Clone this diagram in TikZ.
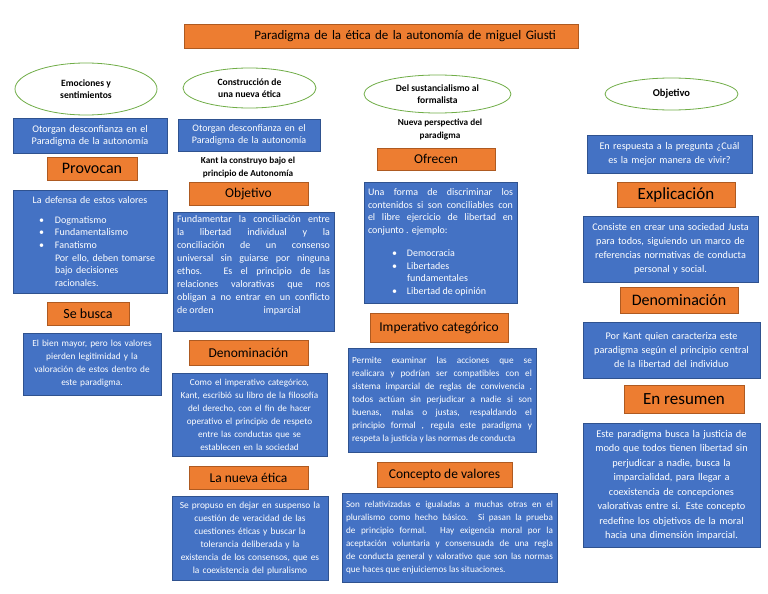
\documentclass[tikz,border=0pt]{standalone}
\usepackage{fontspec}
\setmainfont{Carlito}
\usetikzlibrary{positioning,shapes.geometric}
\definecolor{boxblue}{RGB}{68,114,196}
\definecolor{blueline}{RGB}{47,82,143}
\definecolor{headorange}{RGB}{237,125,49}
\definecolor{orangeline}{RGB}{174,90,33}
\definecolor{ovalgreen}{RGB}{112,173,71}
\tikzset{
  block/.style={draw=blueline, fill=boxblue, text=white, line width=0.8pt,
    font=\fontsize{9.5}{13}\selectfont, inner xsep=4pt, inner ysep=2pt, align=center},
  head/.style={draw=orangeline, fill=headorange, line width=0.8pt, inner sep=0pt,
    font=\fontsize{13.5}{16}\selectfont, align=center},
  bubble/.style={draw=ovalgreen, ellipse, fill=white, line width=0.8pt, inner sep=0pt,
    font=\bfseries\fontsize{9.6}{12.5}\selectfont, align=center},
  label/.style={font=\bfseries\fontsize{9.2}{13}\selectfont, align=center},
  title/.style={draw=orangeline, fill=headorange, line width=0.8pt, inner xsep=22pt,
    inner ysep=0pt, minimum height=24pt, text width=350pt, align=right,
    font=\fontsize{13}{15}\selectfont}
}

\begin{document}
\begin{tikzpicture}[x=1pt,y=-1pt]
  \useasboundingbox (0,0) rectangle (768,594);
  \node[title] (title) at (381,36) {Paradigma de la ética de la autonomía de miguel Giusti};

  \node[bubble, minimum width=142pt, minimum height=52pt] (emo) at (86,89) {Emociones y\\sentimientos};
  \node[block, text width=146pt, minimum height=35pt, font=\fontsize{10.2}{12}\selectfont] (conf1) at (90,135.5) {Otorgan desconfianza en el\\Paradigma de la autonomía};
  \node[head, minimum width=90pt, minimum height=23pt, font=\fontsize{16}{18}\selectfont] (provocan) at (92,168.5) {Provocan};
  \node[block, text width=146pt, minimum height=103pt, align=left, font=\fontsize{10}{12.7}\selectfont] (defensa) at (90,241.5) {\makebox[\linewidth]{La defensa de estos valores}\\[7pt]
    \hspace*{22pt}\makebox[16pt][l]{\textbullet}Dogmatismo\\
    \hspace*{22pt}\makebox[16pt][l]{\textbullet}Fundamentalismo\\
    \hspace*{22pt}\makebox[16pt][l]{\textbullet}Fanatismo\\
    \hspace*{38pt}Por ello, deben tomarse\\
    \hspace*{38pt}bajo decisiones\\
    \hspace*{38pt}racionales.};
  \node[head, minimum width=82pt, minimum height=23pt, font=\fontsize{14}{16}\selectfont] (busca) at (88,313.5) {Se busca};
  \node[block, text width=130pt, minimum height=62pt, font=\fontsize{9.3}{13}\selectfont] (bien) at (92,364) {El bien mayor, pero los valores\\pierden legitimidad y la\\valoración de estos dentro de\\este paradigma.};

  \node[bubble, minimum width=133pt, minimum height=40pt] (nueva) at (249.5,88) {Construcción de\\una nueva ética};
  \node[block, text width=134pt, minimum height=32pt, font=\fontsize{10}{11.5}\selectfont] (conf2) at (249,135) {Otorgan desconfianza en el\\Paradigma de la autonomía};
  \node[label] (kant) at (248,167) {Kant la construyo bajo el\\principio de Autonomía};
  \node[head, minimum width=119pt, minimum height=23pt] (objetivo1) at (248.5,193.5) {Objetivo};
  \node[block, text width=153pt, minimum height=119pt, align=justify, font=\fontsize{10}{13}\selectfont] (fundamento) at (253.5,271.5) {Fundamentar la conciliación entre\linebreak
    la libertad individual y la\linebreak
    conciliación de un consenso\linebreak
    universal sin guiarse por ninguna\linebreak
    ethos. Es el principio de las\linebreak
    relaciones valorativas que nos\linebreak
    obligan a no entrar en un conflicto\linebreak
    de orden\hspace{50pt}imparcial\par\vspace{13pt}};
  \node[head, minimum width=119pt, minimum height=25pt] (denom1) at (248.5,352.5) {Denominación};
  \node[block, text width=147pt, minimum height=83pt, font=\fontsize{9.2}{13}\selectfont] (imper1) at (249.5,414.5) {Como el imperativo categórico,\\Kant, escribió su libro de la filosofía\\del derecho, con el fin de hacer\\operativo el principio de respeto\\entre las conductas que se\\establecen en la sociedad};
  \node[head, minimum width=119pt, minimum height=23pt] (etica) at (248.5,477.5) {La nueva ética};
  \node[block, text width=148pt, minimum height=84pt, font=\fontsize{9.4}{13}\selectfont] (suspenso) at (250,538) {Se propuso en dejar en suspenso la\\cuestión de veracidad de las\\cuestiones éticas y buscar la\\tolerancia deliberada y la\\existencia de los consensos, que es\\la coexistencia del pluralismo};

  \node[bubble, minimum width=147pt, minimum height=38pt] (sust) at (437.5,94) {Del sustancialismo al\\formalista};
  \node[label] (perspectiva) at (440,130) {Nueva perspectiva del\\paradigma};
  \node[head, minimum width=118pt, minimum height=22pt] (ofrecen) at (436,159) {Ofrecen};
  \node[block, text width=145pt, minimum height=121pt, align=justify, font=\fontsize{10}{12.5}\selectfont] (forma) at (440.5,242.5) {Una forma de discriminar los\linebreak
    contenidos si son conciliables con\linebreak
    el libre ejercicio de libertad en\linebreak
    conjunto . ejemplo:\\[11pt]
    \hspace*{24pt}\makebox[15pt][l]{\textbullet}Democracia\\
    \hspace*{24pt}\makebox[15pt][l]{\textbullet}Libertades\\
    \hspace*{39pt}fundamentales\\
    \hspace*{24pt}\makebox[15pt][l]{\textbullet}Libertad de opinión};
  \node[head, minimum width=138pt, minimum height=29pt] (categorico) at (439,327.5) {Imperativo categórico};
  \node[block, text width=180pt, minimum height=104pt, align=justify, font=\fontsize{9.3}{13}\selectfont] (permite) at (442,400) {Permite examinar las acciones que se\linebreak
    realicara y podrían ser compatibles con el\linebreak
    sistema imparcial de reglas de convivencia ,\linebreak
    todos actúan sin perjudicar a nadie si son\linebreak
    buenas, malas o justas, respaldando el\linebreak
    principio formal , regula este paradigma y\linebreak
    respeta la justicia y las normas de conducta};
  \node[head, minimum width=135pt, minimum height=25pt] (valores) at (444.5,474.5) {Concepto de valores};
  \node[block, text width=207pt, minimum height=89pt, align=justify, font=\fontsize{9.2}{13}\selectfont] (relativas) at (449.5,537.5) {Son relativizadas e igualadas a muchas otras en el\linebreak
    pluralismo como hecho básico. Si pasan la prueba\linebreak
    de principio formal. Hay exigencia moral por la\linebreak
    aceptación voluntaria y consensuada de una regla\linebreak
    de conducta general y valorativo que son las normas\linebreak
    que haces que enjuiciemos las situaciones.};

  \node[bubble, minimum width=133pt, minimum height=32pt, font=\bfseries\fontsize{10.5}{12}\selectfont] (objetivo2) at (671.5,94) {Objetivo};
  \node[block, text width=157pt, minimum height=38pt, font=\fontsize{10.2}{14}\selectfont] (pregunta) at (669.5,154) {En respuesta a la pregunta ¿Cuál\\es la mejor manera de vivir?};
  \node[head, minimum width=118pt, minimum height=25pt, font=\fontsize{17}{19}\selectfont] (explica) at (676,194.5) {Explicación};
  \node[block, text width=167pt, minimum height=66pt, font=\fontsize{10.2}{14}\selectfont] (sociedad) at (670.5,249) {Consiste en crear una sociedad Justa\\para todos, siguiendo un marco de\\referencias normativas de conducta\\personal y social.};
  \node[head, minimum width=118pt, minimum height=26pt, font=\fontsize{16}{18}\selectfont] (denom2) at (679,300) {Denominación};
  \node[block, text width=169pt, minimum height=56pt, font=\fontsize{10.2}{14}\selectfont] (libertad) at (671.5,350) {Por Kant quien caracteriza este\\paradigma según el principio central\\de la libertad del individuo};
  \node[head, minimum width=120pt, minimum height=28pt, font=\fontsize{17}{19}\selectfont] (resumen) at (684,399) {En resumen};
  \node[block, text width=169pt, minimum height=124pt, font=\fontsize{10.3}{14.5}\selectfont] (justicia) at (671.5,485) {Este paradigma busca la justicia de\\modo que todos tienen libertad sin\\perjudicar a nadie, busca la\\imparcialidad, para llegar a\\coexistencia de concepciones\\valorativas entre si. Este concepto\\redefine los objetivos de la moral\\hacia una dimensión imparcial.};
\end{tikzpicture}
\end{document}
